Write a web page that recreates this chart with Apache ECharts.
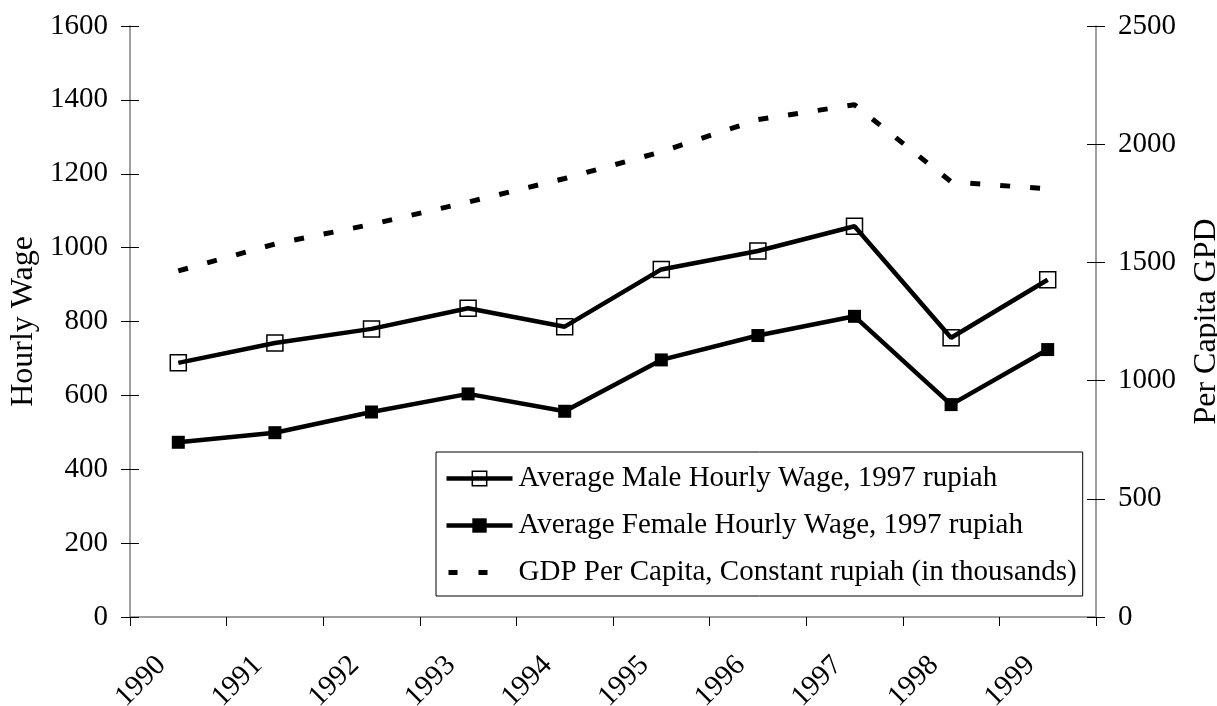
<!DOCTYPE html>
<html>
<head>
<meta charset="utf-8">
<script src="https://cdn.jsdelivr.net/npm/echarts@6/dist/echarts.min.js"></script>
<style>html,body{margin:0;padding:0;background:#fff;}#c{width:1217px;height:706px;}</style>
</head>
<body>
<div id="c"></div>
<script>
const years = ['1990','1991','1992','1993','1994','1995','1996','1997','1998','1999'];
const maleWage = [688, 742, 780, 836, 786, 941, 991, 1058, 756, 913];
const femaleWage = [473, 499, 555, 604, 557, 696, 762, 814, 575, 724];
const gdpPerCapita = [1464, 1578, 1661, 1755, 1855, 1968, 2104, 2167, 1841, 1811];
const seriesNames = ['Average Male Hourly Wage, 1997 rupiah','Average Female Hourly Wage, 1997 rupiah','GDP Per Capita, Constant rupiah (in thousands)'];
const leftTitle = 'Hourly Wage';
const rightTitle = 'Per Capita GPD';

const FONT = 'Liberation Serif';
const FS = 29;
const FT = 32;
const chart = echarts.init(document.getElementById('c'), null, {renderer:'canvas'});
const axisLineStyle = {color:'#7f7f7f', width:1.5};
const tickStyle = {color:'#000', width:1};
const plain = v => String(v);
chart.setOption({
  animation:false,
  backgroundColor:'#fff',
  textStyle:{fontFamily:FONT},
  grid:{left:130, right:121, top:26, bottom:89, containLabel:false, outerBoundsMode:'none'},
  legend:{
    orient:'vertical', left:436, top:452,
    backgroundColor:'#fff', borderColor:'#000', borderWidth:1,
    padding:[12,6,9,8],
    itemWidth:66, itemHeight:18, itemGap:18,
    textStyle:{fontFamily:FONT, fontSize:FS, color:'#000', padding:[0,0,0,1]},
    data:[
      {name:seriesNames[0], lineStyle:{width:4.5}, itemStyle:{borderWidth:1.5}},
      {name:seriesNames[1], lineStyle:{width:4.5}},
      {name:seriesNames[2], lineStyle:{width:5, type:[9,21,9,100], dashOffset:-2}, itemStyle:{color:'rgba(0,0,0,0)', borderWidth:0}}
    ]
  },
  xAxis:{
    type:'category', data:years, boundaryGap:true,
    axisLine:{lineStyle:axisLineStyle},
    axisTick:{show:true, inside:false, length:9, lineStyle:tickStyle},
    axisLabel:{rotate:45, margin:27, padding:[0,24,0,0], fontFamily:FONT, fontSize:FS, color:'#000', interval:0},
    splitLine:{show:false}
  },
  yAxis:[
    {type:'value', position:'left', min:0, max:1600, interval:200,
     name:leftTitle, nameLocation:'middle', nameGap:77,
     nameTextStyle:{fontFamily:FONT, fontSize:FT, color:'#000'},
     axisLine:{show:true, lineStyle:axisLineStyle},
     axisTick:{show:true, inside:false, length:9, lineStyle:tickStyle},
     axisLabel:{margin:22, fontFamily:FONT, fontSize:FS, color:'#000', formatter:plain},
     splitLine:{show:false}},
    {type:'value', position:'right', min:0, max:2500, interval:500,
     name:rightTitle, nameLocation:'middle', nameGap:95,
     nameTextStyle:{fontFamily:FONT, fontSize:FT, color:'#000'},
     axisLine:{show:true, lineStyle:axisLineStyle},
     axisTick:{show:true, inside:false, length:9, lineStyle:tickStyle},
     axisLabel:{margin:22, fontFamily:FONT, fontSize:FS, color:'#000', formatter:plain},
     splitLine:{show:false}},
    {type:'value', position:'left', min:0, max:1600, interval:200,
     axisLine:{show:false}, axisLabel:{show:false}, splitLine:{show:false},
     axisTick:{show:true, inside:true, length:9, lineStyle:tickStyle}},
    {type:'value', position:'right', min:0, max:2500, interval:500,
     axisLine:{show:false}, axisLabel:{show:false}, splitLine:{show:false},
     axisTick:{show:true, inside:true, length:9, lineStyle:tickStyle}}
  ],
  series:[
    {name:seriesNames[0], type:'line', yAxisIndex:0, data:maleWage,
     symbol:'rect', symbolSize:16, showAllSymbol:true,
     lineStyle:{color:'#000', width:4.5},
     itemStyle:{color:'rgba(0,0,0,0)', borderColor:'#000', borderWidth:1.5},
     z:3},
    {name:seriesNames[1], type:'line', yAxisIndex:0, data:femaleWage,
     symbol:'rect', symbolSize:13, showAllSymbol:true,
     lineStyle:{color:'#000', width:4.5},
     itemStyle:{color:'#000', borderWidth:0},
     z:3},
    {name:seriesNames[2], type:'line', yAxisIndex:1, data:gdpPerCapita,
     symbol:'none',
     lineStyle:{color:'#000', width:5, type:[10,20], cap:'butt'},
     itemStyle:{color:'#000'},
     z:2}
  ]
});
</script>
</body>
</html>
